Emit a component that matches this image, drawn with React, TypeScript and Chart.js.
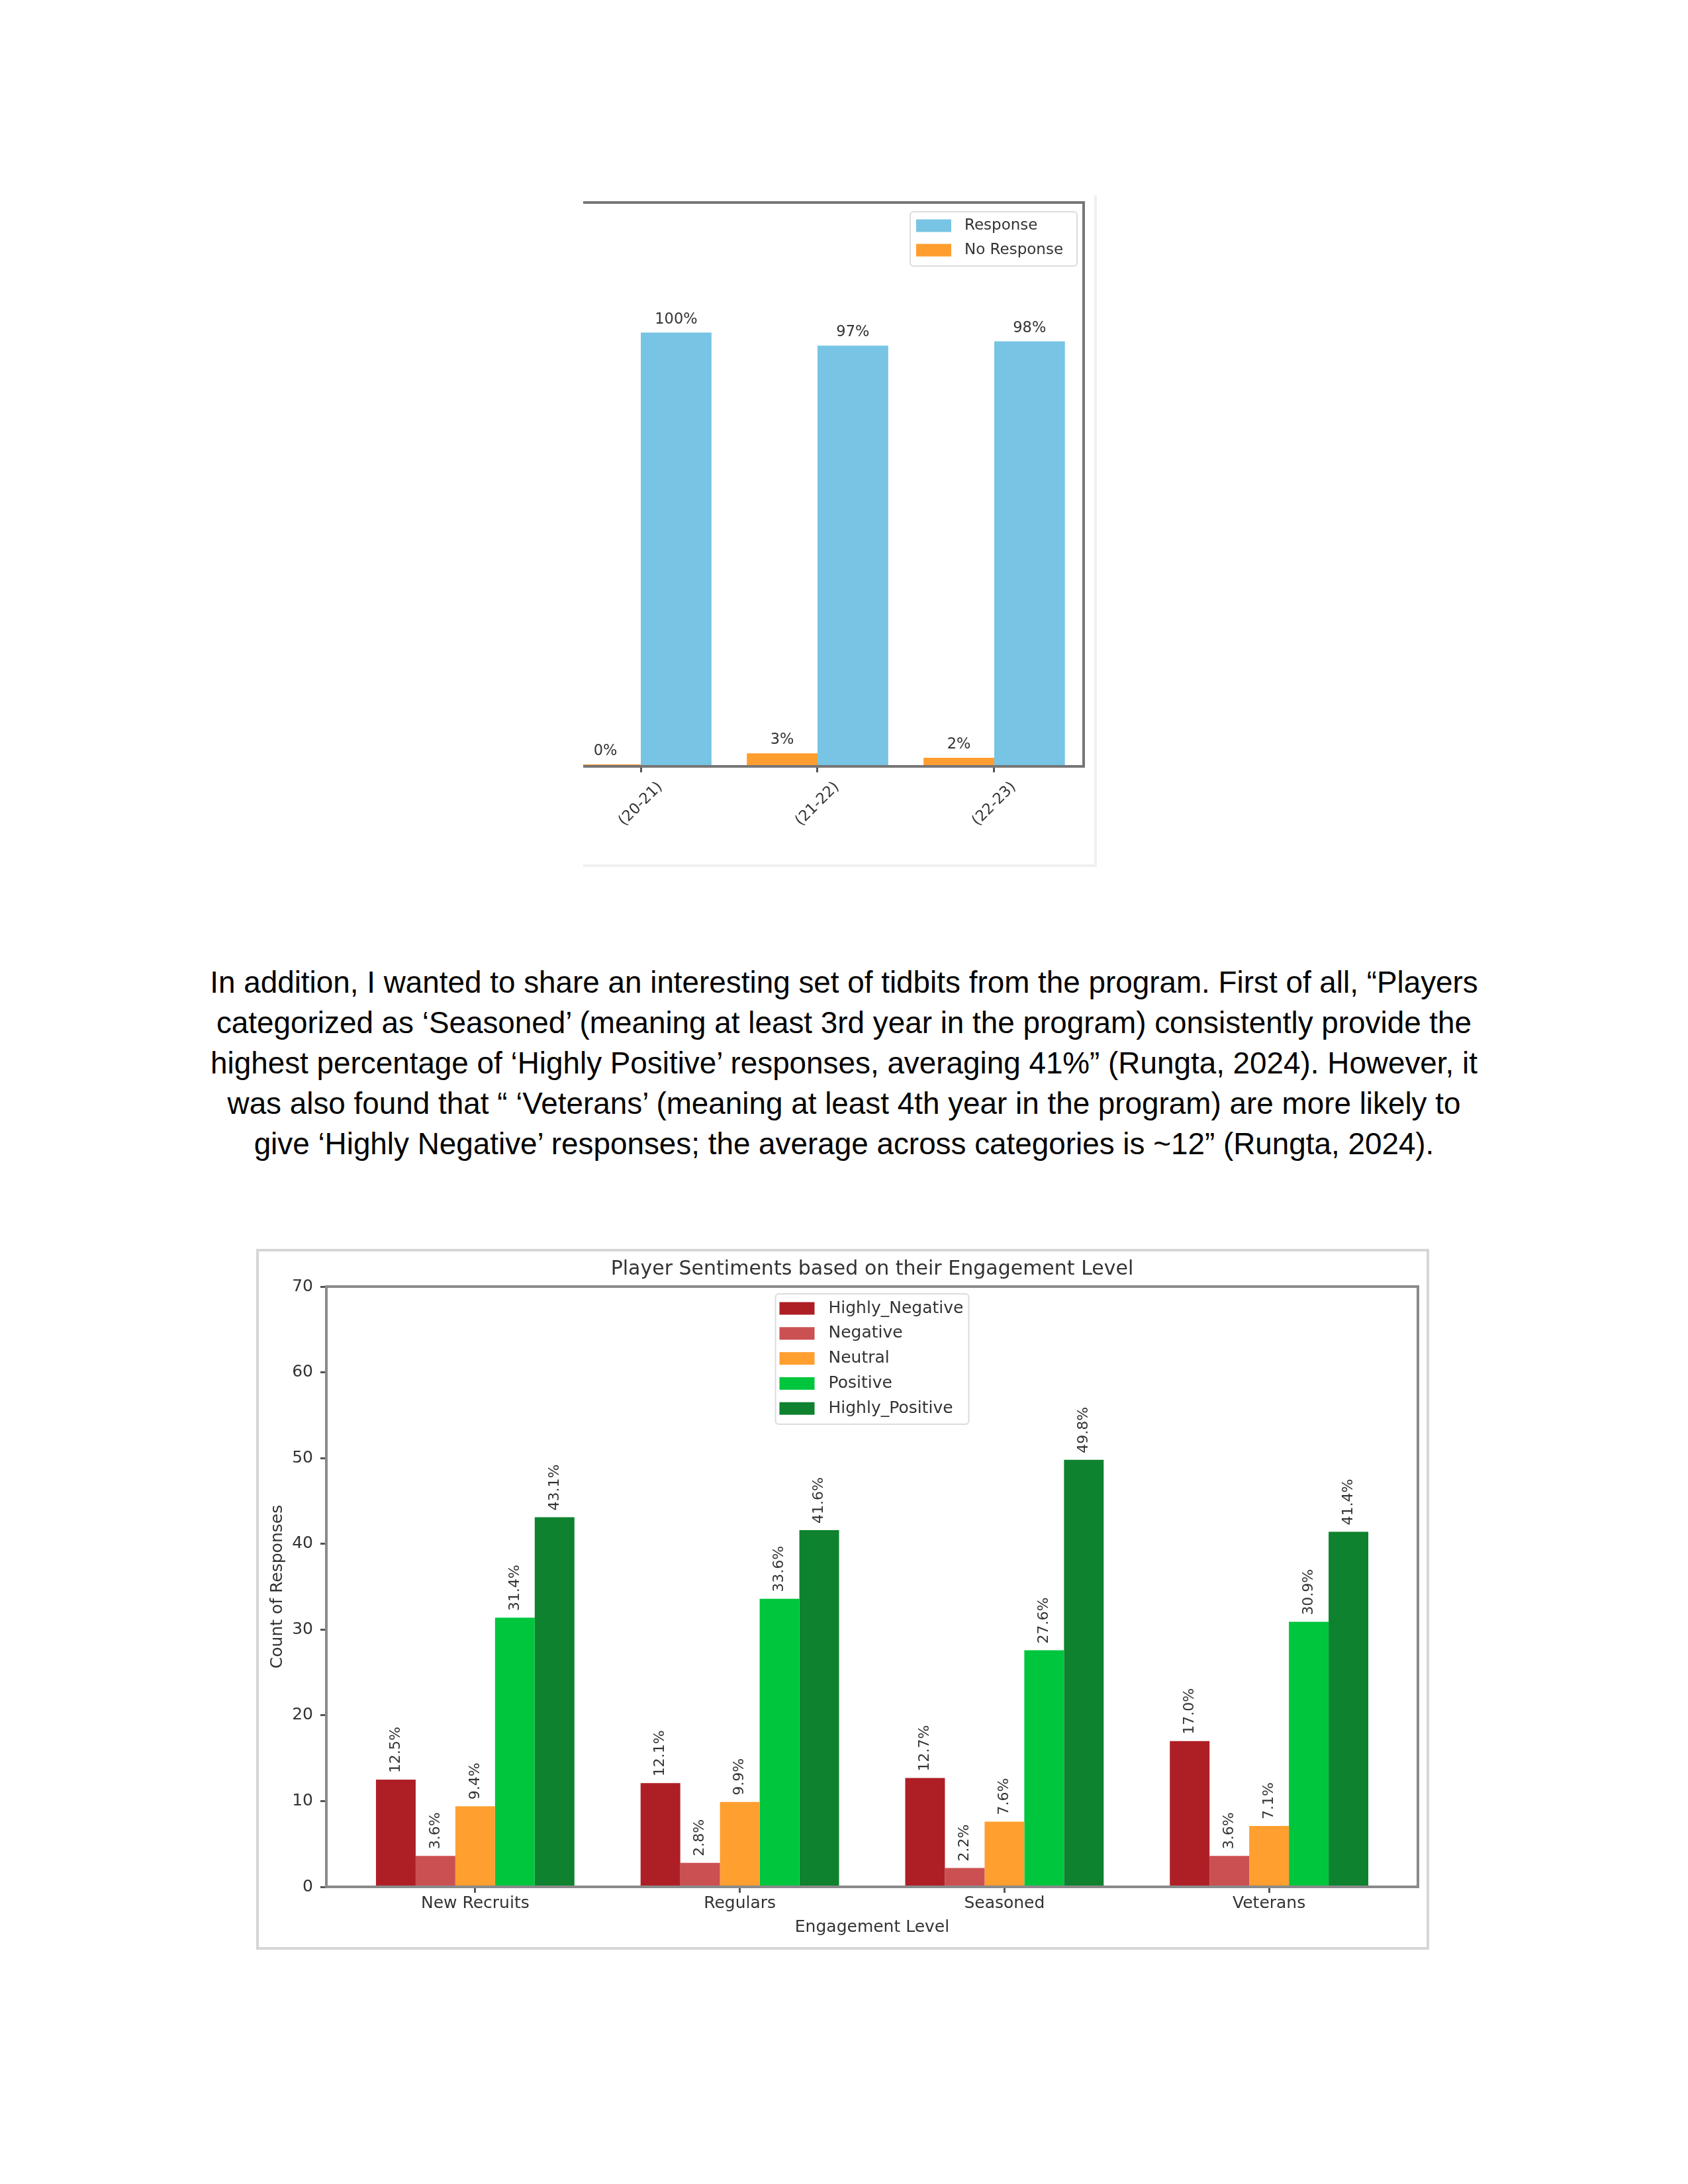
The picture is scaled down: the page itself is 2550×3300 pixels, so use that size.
import React, { useEffect, useRef } from "react";
import { Chart, registerables } from "chart.js";

Chart.register(...registerables);

// ---------- Chart 1 data ----------
const yearLabels = ["(20-21)", "(21-22)", "(22-23)"];
const responseSeries = [100, 97, 98];
const noResponseSeries = [0, 3, 2];
const responseSeriesName = "Response";
const noResponseSeriesName = "No Response";

// ---------- Chart 2 data ----------
const engagementLevels = ["New Recruits", "Regulars", "Seasoned", "Veterans"];
const sentimentLabels = ["Highly_Negative", "Negative", "Neutral", "Positive", "Highly_Positive"];
const highlyNegativeSeries = [12.5, 12.1, 12.7, 17.0];
const negativeSeries = [3.6, 2.8, 2.2, 3.6];
const neutralSeries = [9.4, 9.9, 7.6, 7.1];
const positiveSeries = [31.4, 33.6, 27.6, 30.9];
const highlyPositiveSeries = [43.1, 41.6, 49.8, 41.4];
const sentimentTitle = "Player Sentiments based on their Engagement Level";
const yAxisTitle = "Count of Responses";
const xAxisTitle = "Engagement Level";

// ---------- Paragraph ----------
const paragraphLines = [
  "In addition, I wanted to share an interesting set of tidbits from the program. First of all, \u201cPlayers",
  "categorized as \u2018Seasoned\u2019 (meaning at least 3rd year in the program) consistently provide the",
  "highest percentage of \u2018Highly Positive\u2019 responses, averaging 41%\u201d (Rungta, 2024). However, it",
  "was also found that \u201c \u2018Veterans\u2019 (meaning at least 4th year in the program) are more likely to",
  "give \u2018Highly Negative\u2019 responses; the average across categories is ~12\u201d (Rungta, 2024).",
];

// ---------- Styles ----------
const FONT = "'DejaVu Sans', sans-serif";
const TEXT = "#333333";
const RESPONSE_COLOR = "#77C4E4";
const NO_RESPONSE_COLOR = "#FF9E2E";
const SENTIMENT_COLORS = ["#AE1F25", "#CB5052", "#FF9F30", "#00C63E", "#0E822E"];

function spines(id: string, sides: string[], color: string, width: number) {
  return {
    id,
    afterDatasetsDraw(chart: any) {
      const { ctx, chartArea: a } = chart;
      ctx.save();
      ctx.strokeStyle = color;
      ctx.lineWidth = width;
      ctx.lineCap = "butt";
      ctx.beginPath();
      const h = width / 2;
      if (sides.includes("top")) { ctx.moveTo(a.left - (sides.includes("left") ? h : 0), a.top); ctx.lineTo(a.right + h, a.top); }
      if (sides.includes("right")) { ctx.moveTo(a.right, a.top - h); ctx.lineTo(a.right, a.bottom + h); }
      if (sides.includes("bottom")) { ctx.moveTo(a.left - (sides.includes("left") ? h : 0), a.bottom); ctx.lineTo(a.right + h, a.bottom); }
      if (sides.includes("left")) { ctx.moveTo(a.left, a.top - h); ctx.lineTo(a.left, a.bottom + h); }
      ctx.stroke();
      ctx.restore();
    },
  };
}

const chart1Labels = {
  id: "chart1Labels",
  afterDatasetsDraw(chart: any) {
    const { ctx } = chart;
    ctx.save();
    ctx.font = `22.5px ${FONT}`;
    ctx.fillStyle = TEXT;
    ctx.textAlign = "center";
    ctx.textBaseline = "alphabetic";
    chart.data.datasets.forEach((ds: any, di: number) => {
      const meta = chart.getDatasetMeta(di);
      meta.data.forEach((el: any, i: number) => {
        const v = ds.data[i].y;
        ctx.fillText(`${Math.round(v)}%`, el.x, el.y - 14);
      });
    });
    // rotated category labels centred on ticks
    const xs = chart.scales.x;
    const a = chart.chartArea;
    ctx.font = `22.5px ${FONT}`;
    ctx.textBaseline = "middle";
    yearLabels.forEach((lab, i) => {
      const px = xs.getPixelForValue(i);
      ctx.save();
      ctx.translate(px, a.bottom + 57);
      ctx.rotate(-Math.PI / 4);
      ctx.fillText(lab, 0, 0);
      ctx.restore();
    });
    // legend
    const bw = 252, bh = 82;
    const bx = a.right - 10 - bw, by = a.top + 14;
    ctx.fillStyle = "rgba(255,255,255,0.85)";
    ctx.strokeStyle = "#dcdcdc";
    ctx.lineWidth = 2;
    ctx.beginPath();
    ctx.roundRect(bx, by, bw, bh, 5);
    ctx.fill();
    ctx.stroke();
    const items = [
      { label: chart.data.datasets[1].label, color: chart.data.datasets[1].backgroundColor },
      { label: chart.data.datasets[0].label, color: chart.data.datasets[0].backgroundColor },
    ];
    ctx.textAlign = "left";
    ctx.font = `23px ${FONT}`;
    items.forEach((it, i) => {
      const cy = by + 21 + i * 37;
      ctx.fillStyle = it.color;
      ctx.fillRect(bx + 9, cy - 9.5, 53, 19);
      ctx.fillStyle = TEXT;
      ctx.fillText(it.label, bx + 82, cy);
    });
    ctx.restore();
  },
};

const chart2Extras = {
  id: "chart2Extras",
  afterDatasetsDraw(chart: any) {
    const { ctx } = chart;
    const a = chart.chartArea;
    ctx.save();
    // bar value labels, rotated
    ctx.font = `22px ${FONT}`;
    ctx.fillStyle = TEXT;
    ctx.textAlign = "left";
    ctx.textBaseline = "middle";
    chart.data.datasets.forEach((ds: any, di: number) => {
      const meta = chart.getDatasetMeta(di);
      meta.data.forEach((el: any, i: number) => {
        const v = ds.data[i].y;
        ctx.save();
        ctx.translate(el.x, el.y - 10);
        ctx.rotate(-Math.PI / 2);
        ctx.fillText(`${v.toFixed(1)}%`, 0, 0);
        ctx.restore();
      });
    });
    // title
    ctx.font = `30px ${FONT}`;
    ctx.textAlign = "center";
    ctx.fillText(sentimentTitle, (a.left + a.right) / 2, a.top - 26);
    // legend
    const bw = 292, bh = 197;
    const bx = (a.left + a.right) / 2 - bw / 2, by = a.top + 11;
    ctx.fillStyle = "rgba(255,255,255,0.85)";
    ctx.strokeStyle = "#dcdcdc";
    ctx.lineWidth = 2;
    ctx.beginPath();
    ctx.roundRect(bx, by, bw, bh, 5);
    ctx.fill();
    ctx.stroke();
    ctx.textAlign = "left";
    ctx.font = `25px ${FONT}`;
    chart.data.datasets.forEach((ds: any, i: number) => {
      const cy = by + 22 + i * 37.8;
      ctx.fillStyle = ds.backgroundColor;
      ctx.fillRect(bx + 6, cy - 9.5, 53, 19);
      ctx.fillStyle = TEXT;
      ctx.fillText(ds.label, bx + 80, cy);
    });
    ctx.restore();
  },
};

function toPoints(values: number[]) {
  return values.map((v, i) => ({ x: i, y: v }));
}

export default function App() {
  const ref1 = useRef<HTMLCanvasElement>(null);
  const ref2 = useRef<HTMLCanvasElement>(null);

  useEffect(() => {
    const ch1 = new Chart(ref1.current as HTMLCanvasElement, {
      type: "bar",
      data: {
        datasets: [
          { label: noResponseSeriesName, data: toPoints(noResponseSeries), backgroundColor: NO_RESPONSE_COLOR, borderWidth: 0, minBarLength: 3, clip: 0 } as any,
          { label: responseSeriesName, data: toPoints(responseSeries), backgroundColor: RESPONSE_COLOR, borderWidth: 0, clip: 0 } as any,
        ],
      },
      options: {
        animation: false,
        responsive: false,
        devicePixelRatio: 1,
        layout: { padding: { left: 11, top: 11, right: 23, bottom: 0 } },
        datasets: { bar: { categoryPercentage: 0.8, barPercentage: 1.0 } },
        plugins: { legend: { display: false }, tooltip: { enabled: false }, title: { display: false } },
        scales: {
          x: {
            type: "linear",
            min: -0.326,
            max: 2.506,
            offset: false,
            afterBuildTicks: (s: any) => { s.ticks = yearLabels.map((_, i) => ({ value: i })); },
            ticks: { display: false },
            grid: { display: true, drawOnChartArea: false, drawTicks: true, tickLength: 9, tickWidth: 3, tickColor: "#555555", offset: false },
            border: { display: false },
            afterFit: (s: any) => { s.height = 157; },
          },
          y: { display: false, min: 0, max: 130 },
        },
      } as any,
      plugins: [spines("sp1", ["top", "right", "bottom"], "#767676", 4), chart1Labels],
    });

    const seriesList = [highlyNegativeSeries, negativeSeries, neutralSeries, positiveSeries, highlyPositiveSeries];
    const ch2 = new Chart(ref2.current as HTMLCanvasElement, {
      type: "bar",
      data: {
        datasets: seriesList.map((s, i) => ({
          label: sentimentLabels[i],
          data: toPoints(s),
          backgroundColor: SENTIMENT_COLORS[i],
          borderWidth: 0,
          clip: 0,
        })) as any,
      },
      options: {
        animation: false,
        responsive: false,
        devicePixelRatio: 1,
        layout: { padding: { left: 0, top: 57, right: 17, bottom: 0 } },
        datasets: { bar: { categoryPercentage: 0.75, barPercentage: 1.0 } },
        plugins: { legend: { display: false }, tooltip: { enabled: false }, title: { display: false } },
        scales: {
          x: {
            type: "linear",
            min: -0.5625,
            max: 3.5625,
            offset: false,
            afterBuildTicks: (s: any) => { s.ticks = engagementLevels.map((_, i) => ({ value: i })); },
            ticks: {
              callback: (v: any) => engagementLevels[Math.round(Number(v))],
              font: { family: FONT, size: 25 },
              color: TEXT,
              padding: 1,
              maxRotation: 0,
              minRotation: 0,
              autoSkip: false,
            },
            grid: { display: true, drawOnChartArea: false, drawTicks: true, tickLength: 9, tickWidth: 3, tickColor: "#555555", offset: false },
            border: { display: false },
            title: { display: true, text: xAxisTitle, font: { family: FONT, size: 25 }, color: TEXT, padding: { top: 0, bottom: 19 } },
            afterFit: (s: any) => { s.height = 95; },
          },
          y: {
            min: 0,
            max: 70,
            ticks: { stepSize: 10, font: { family: FONT, size: 25 }, color: TEXT, padding: 11 },
            grid: { display: true, drawOnChartArea: false, drawTicks: true, tickLength: 9, tickWidth: 3, tickColor: "#555555" },
            border: { display: false },
            title: { display: true, text: yAxisTitle, font: { family: FONT, size: 25 }, color: TEXT, padding: { top: 17, bottom: 0 } },
            afterFit: (s: any) => { s.width = 106; },
          },
        },
      } as any,
      plugins: [spines("sp2", ["top", "right", "bottom", "left"], "#8a8a8a", 4), chart2Extras],
    });

    return () => {
      ch1.destroy();
      ch2.destroy();
    };
  }, []);

  return (
    <div style={{ position: "absolute", left: 0, top: 0, width: 2550, height: 3300, background: "#ffffff" }}>
      <div
        style={{
          position: "absolute", left: 881, top: 295, width: 776, height: 1015, boxSizing: "border-box",
          borderRight: "4px solid #f0f0f0", borderBottom: "4px solid #f0f0f0",
        }}
      />
      <canvas
        ref={ref1}
        width={790}
        height={1020}
        style={{ position: "absolute", left: 870, top: 295, width: 790, height: 1020 }}
      />
      <div
        style={{
          position: "absolute", left: 300, top: 1454, width: 1950, textAlign: "center",
          fontFamily: "'Liberation Sans', Arial, sans-serif", fontSize: "45.83px", lineHeight: "61px", color: "#000",
        }}
      >
        {paragraphLines.map((l, i) => (
          <div key={i} style={{ whiteSpace: "nowrap" }}>{l}</div>
        ))}
      </div>
      <div
        style={{
          position: "absolute", left: 387, top: 1887, width: 1772, height: 1059, boxSizing: "border-box",
          border: "4px solid #d6d6d6",
        }}
      />
      <canvas
        ref={ref2}
        width={1772}
        height={1059}
        style={{ position: "absolute", left: 387, top: 1887, width: 1772, height: 1059 }}
      />
    </div>
  );
}
